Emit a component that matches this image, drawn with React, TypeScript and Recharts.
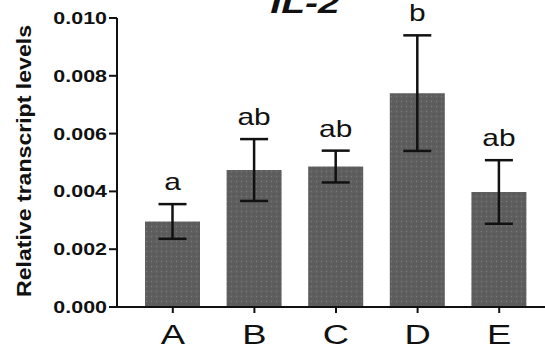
import React from 'react';
import { BarChart, Bar, XAxis, YAxis, ErrorBar, LabelList } from 'recharts';

const groups = ['A', 'B', 'C', 'D', 'E'];
const means = [0.00296, 0.00474, 0.00486, 0.0074, 0.00398];
const sem = [0.0006, 0.00107, 0.00055, 0.002, 0.0011];
const letters = ['a', 'ab', 'ab', 'b', 'ab'];
const yTicks = [0, 0.002, 0.004, 0.006, 0.008, 0.01];

const data = groups.map((g, i) => ({
  group: g,
  level: means[i],
  err: sem[i],
  letter: letters[i],
}));

const font = '"Liberation Sans", Arial, sans-serif';
// the figure's lettering is drawn a bit wide
const SX = 1.3;

// significance letter sits a little above the top of the error bar
const LetterLabel = (props: any) => {
  const { x, y, width, height, index } = props;
  const row = data[index];
  const pxPerUnit = height / row.level;
  const top = y - row.err * pxPerUnit;
  return (
    <text
      transform={`translate(${x + width / 2},${top - 14}) scale(${SX},1)`}
      textAnchor="middle"
      fontSize={23}
      fontFamily={font}
      fill="#111"
    >
      {row.letter}
    </text>
  );
};

const YTick = (props: any) => {
  const { x, y, payload } = props;
  return (
    <text
      transform={`translate(${x},${y + 6}) scale(${SX},1)`}
      textAnchor="end"
      fontSize={16.5}
      fontWeight="bold"
      fontFamily={font}
      fill="#111"
    >
      {Number(payload.value).toFixed(3)}
    </text>
  );
};

const XTick = (props: any) => {
  const { x, y, payload } = props;
  return (
    <text
      transform={`translate(${x},${y + 31}) scale(${SX},1)`}
      textAnchor="middle"
      fontSize={28}
      fontFamily={font}
      fill="#111"
    >
      {payload.value}
    </text>
  );
};

const YLabel = () => (
  <text
    transform="translate(31 161) rotate(-90)"
    textAnchor="middle"
    fontSize={19.5}
    fontWeight="bold"
    fontFamily={font}
    fill="#111"
    textLength={272}
    lengthAdjust="spacingAndGlyphs"
  >
    Relative transcript levels
  </text>
);

export default function App() {
  return (
    <div style={{ position: 'absolute', left: 0, top: 0, background: '#fff' }}>
      <BarChart width={545} height={355} data={data} margin={{ top: 18, right: 0, bottom: 18, left: 0 }}>
        <defs>
          <pattern id="stipple" width="5" height="5" patternUnits="userSpaceOnUse">
            <rect width="5" height="5" fill="#5e5e5e" />
            <circle cx="1.5" cy="1.5" r="0.7" fill="#7a7a7a" />
            <circle cx="4" cy="3.8" r="0.6" fill="#4a4a4a" />
          </pattern>
        </defs>
        <text
          transform={`translate(305,13) scale(${SX},1)`}
          textAnchor="middle"
          fontSize={30}
          fontStyle="italic"
          fontWeight="bold"
          fontFamily={font}
          fill="#111"
        >
          IL-2
        </text>
        <YLabel />
        <XAxis
          dataKey="group"
          height={30}
          padding={{ left: 15, right: 5 }}
          axisLine={{ stroke: '#111', strokeWidth: 2 }}
          tickLine={{ stroke: '#111', strokeWidth: 2 }}
          tickSize={6}
          tickMargin={0}
          tick={<XTick />}
        />
        <YAxis
          width={117}
          domain={[0, 0.01]}
          ticks={yTicks}
          interval={0}
          axisLine={{ stroke: '#111', strokeWidth: 2 }}
          tickLine={{ stroke: '#111', strokeWidth: 2 }}
          tickSize={8}
          tickMargin={2}
          tick={<YTick />}
        />
        <Bar dataKey="level" barSize={55} fill="url(#stipple)" isAnimationActive={false}>
          <ErrorBar dataKey="err" width={14} stroke="#111" strokeWidth={2.5} direction="y" />
          <LabelList dataKey="letter" content={<LetterLabel />} />
        </Bar>
      </BarChart>
    </div>
  );
}
